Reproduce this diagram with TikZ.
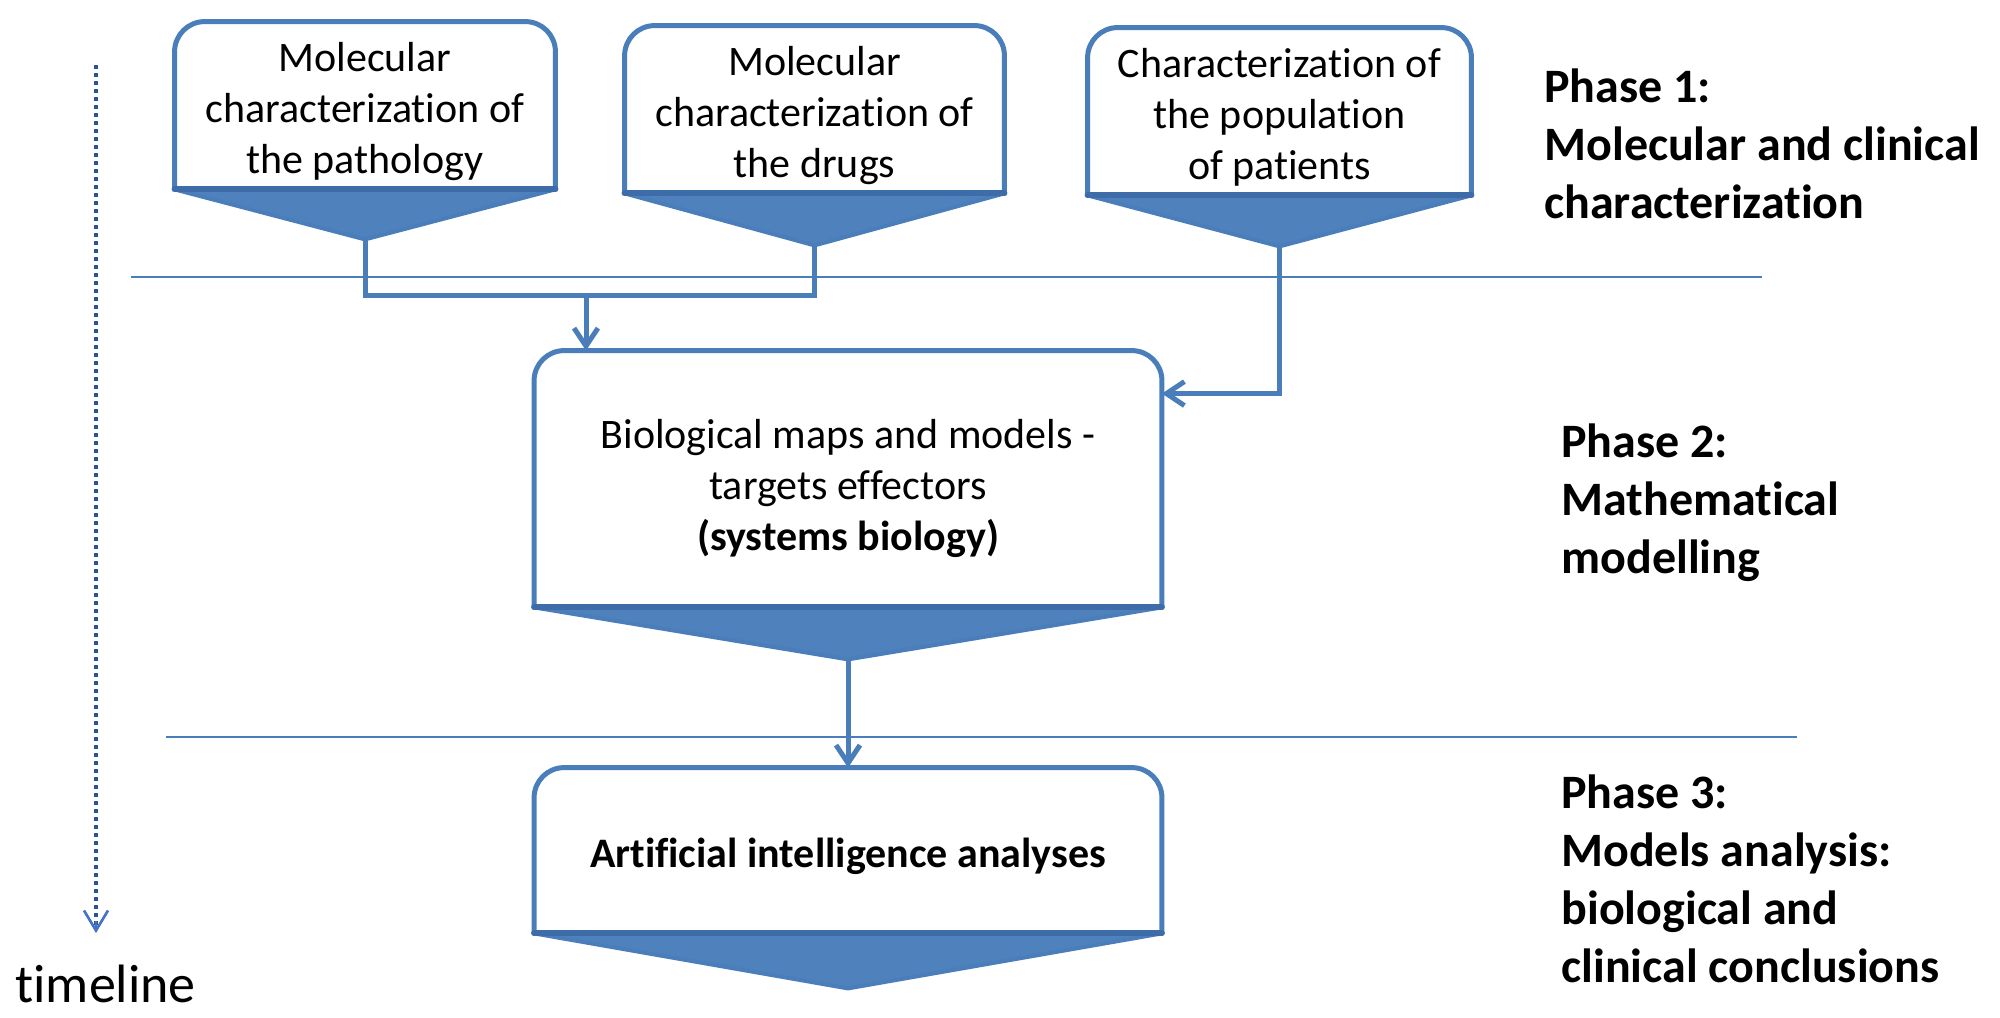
\documentclass[tikz,border=0pt]{standalone}
\usepackage{fontspec}
\setmainfont{Carlito}[Ligatures=NoCommon]
\usetikzlibrary{arrows.meta,calc,backgrounds}
\definecolor{bline}{HTML}{4A7EBB}
\definecolor{bfill}{HTML}{4F81BD}
\definecolor{bdark}{HTML}{3D6CA8}
\definecolor{tdot}{HTML}{2B5294}
\definecolor{tarrow}{HTML}{4472C4}
\tikzset{
  boxnode/.style={inner sep=0pt},
  boxtext/.style={align=center, font=\fontsize{21}{25.5}\selectfont, inner sep=0pt},
  boxframe/.style={draw=bline, line width=2.5pt, rounded corners=15pt, fill=white},
  tri/.style={fill=bfill, draw=bline, line width=2pt, line join=round},
  bottomedge/.style={draw=bdark, line width=3pt, line cap=round},
  conn/.style={draw=bline, line width=2.5pt},
  arr/.style={conn, -{Straight Barb[length=9pt,width=12pt]}},
  sep/.style={draw=bline, line width=1pt},
  phase/.style={align=left, font=\fontsize{24}{29}\selectfont\bfseries, inner sep=0pt, anchor=base west},
}
\newcommand{\flowframe}[2]{%
  \path[boxframe] (#1.south west) -- (#1.north west) -- (#1.north east) -- (#1.south east);
  \coordinate (#1-tip) at ($(#1.south)+(0,#2)$);
  \path[tri] (#1.south west) -- (#1-tip) -- (#1.south east) -- cycle;
  \draw[bottomedge] (#1.south west) -- (#1.south east);
}
\begin{document}
\begin{tikzpicture}[x=0.5pt,y=-0.5pt]
\useasboundingbox (0,0) rectangle (2000,1017);

% box frames (named nodes)
\node[boxnode, minimum width=190pt, minimum height=83.5pt] (b1) at (365,105.5) {};
\node[boxnode, minimum width=189.5pt, minimum height=83.5pt] (b2) at (814.5,109.5) {};
\node[boxnode, minimum width=191.5pt, minimum height=83.5pt] (b3) at (1279.5,111.5) {};
\node[boxnode, minimum width=313.5pt, minimum height=128pt] (b4) at (848,479) {};
\node[boxnode, minimum width=313.5pt, minimum height=82.5pt] (b5) at (848,850.5) {};

% box texts
\node[boxtext] (b1t) at ([yshift=-3pt]b1.center) {Molecular\\characterization of\\the pathology};
\node[boxtext] (b2t) at ([yshift=-3pt]b2.center) {Molecular\\characterization of\\the drugs};
\node[boxtext] (b3t) at ([yshift=-3pt]b3.center) {Characterization of\\the population\\of patients};
\node[boxtext] (b4t) at ([yshift=-4.5pt]b4.center) {Biological maps and models -\\targets effectors\\\textbf{(systems biology)}};
\node[boxtext] (b5t) at ([yshift=-3pt]b5.center) {\textbf{Artificial intelligence analyses}};

\begin{scope}[on background layer]
  \fill[white] (0,0) rectangle (2000,1017);
  \flowframe{b1}{50}
  \flowframe{b2}{52}
  \flowframe{b3}{51}
  \flowframe{b4}{52}
  \flowframe{b5}{55}
\end{scope}

% separators
\draw[sep] (131,277) -- (1762,277);
\draw[sep] (166,737) -- (1797,737);

% connectors
\coordinate (j) at (586,295);
\draw[conn] (b1-tip) -- (b1-tip |- j) -- (b2-tip |- j) -- (b2-tip);
\draw[arr] (j) -- (j |- b4.north);
\draw[arr] (b3-tip) |- ([yshift=-21.5pt]b4.north east);
\draw[arr] (b4-tip) -- (b5.north);

% timeline
\coordinate (t0) at (96,65);
\coordinate (t1) at (96,933);
\draw[tdot, line width=2pt, dash pattern=on 1.8pt off 2.2pt] (t0) -- ($(t1)+(0,-6)$);
\draw[tarrow, line width=1.3pt, -{Straight Barb[length=10pt,width=12pt]}] ($(t1)+(0,-12)$) -- (t1);
\node[font=\fontsize{27}{32}\selectfont, anchor=base west, inner sep=0pt] (tl) at (15,1002) {timeline};

% phases (base = last line's baseline)
\node[phase] (p1) at (1544,218) {Phase 1:\\Molecular and clinical\\characterization};
\node[phase] (p2) at (1561,573) {Phase 2:\\Mathematical\\modelling};
\node[phase] (p3) at (1561,982) {Phase 3:\\Models analysis:\\biological and\\clinical conclusions};
\end{tikzpicture}
\end{document}
